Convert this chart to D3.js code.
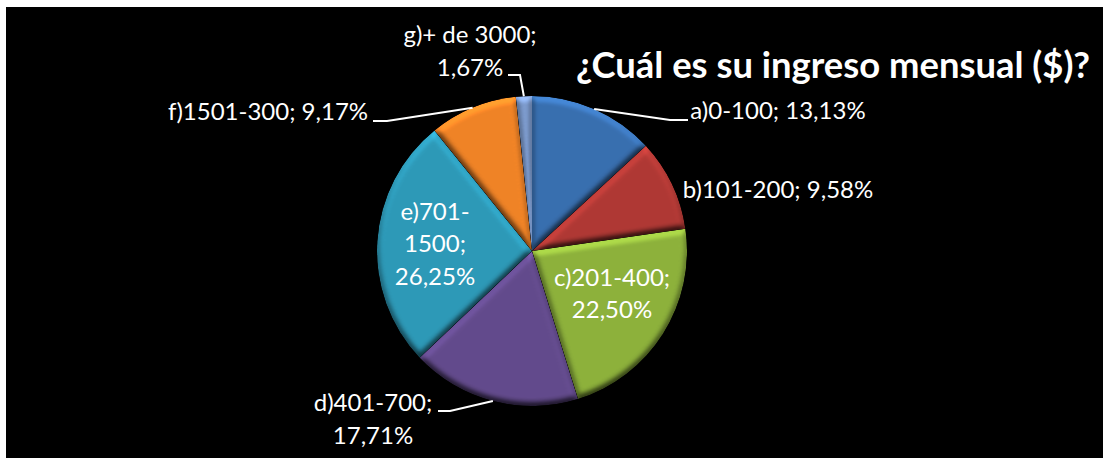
<!DOCTYPE html>
<html>
<head>
<meta charset="utf-8">
<script src="https://cdn.jsdelivr.net/npm/d3@7"></script>
<style>
  html, body { margin: 0; padding: 0; background: #fff; overflow: hidden; }
  text { font-family: Lato, "Open Sans", sans-serif; fill: #fff; }
</style>
</head>
<body>
<div id="chart"></div>
<script>
// values
const categories = ['a)0-100', 'b)101-200', 'c)201-400', 'd)401-700', 'e)701-1500', 'f)1501-300', 'g)+ de 3000'];
const percents = [13.13, 9.58, 22.50, 17.71, 26.25, 9.17, 1.67];
const percentLabels = ['13,13%', '9,58%', '22,50%', '17,71%', '26,25%', '9,17%', '1,67%'];
const colors = ['#386eae', '#ae3834', '#8cb03b', '#624a8b', '#2d98b6', '#ee8226', '#7c9acc'];
const title = '¿Cuál es su ingreso mensual ($)?';

const width = 1103, height = 458;
const center = {x: 532, y: 251};
const radius = 155;

const svg = d3.select('#chart').append('svg')
  .attr('width', width)
  .attr('height', height)
  .style('display', 'block');

svg.append('rect')
  .attr('x', 6).attr('y', 7)
  .attr('width', width - 6).attr('height', height - 7)
  .attr('fill', '#000');

// bevel on the slices, lit from above
const defs = svg.append('defs');
const bevel = defs.append('filter').attr('id', 'bevel')
  .attr('x', '-5%').attr('y', '-5%').attr('width', '110%').attr('height', '110%')
  .attr('color-interpolation-filters', 'sRGB');
bevel.append('feGaussianBlur').attr('in', 'SourceAlpha').attr('stdDeviation', 3.2).attr('result', 'blur');
bevel.append('feDiffuseLighting')
  .attr('in', 'blur').attr('surfaceScale', 4).attr('diffuseConstant', 1)
  .attr('lighting-color', '#fff').attr('result', 'light')
  .append('feDistantLight').attr('azimuth', 270).attr('elevation', 50);
bevel.append('feComposite').attr('in', 'SourceGraphic').attr('in2', 'light')
  .attr('operator', 'arithmetic').attr('k1', 1).attr('k2', 0.24).attr('k3', 0).attr('k4', 0).attr('result', 'lit');
bevel.append('feComposite').attr('in', 'lit').attr('in2', 'SourceAlpha').attr('operator', 'in');

const pie = d3.pie().sort(null).value(d => d);
const arcs = pie(percents);
const arc = d3.arc().innerRadius(0).outerRadius(radius);

const g = svg.append('g').attr('transform', `translate(${center.x},${center.y})`);

g.selectAll('path.slice')
  .data(arcs)
  .enter()
  .append('path')
  .attr('class', 'slice')
  .attr('d', arc)
  .attr('fill', (d, i) => colors[i])
  .attr('filter', 'url(#bevel)');

// where each label goes: line centres, and the bend of its leader
const labelLayout = [
  {lines: [`${categories[0]}; ${percentLabels[0]}`], x: 778, y: [111], leader: [[670, 120], [688, 120]]},
  {lines: [`${categories[1]}; ${percentLabels[1]}`], x: 778, y: [190]},
  {lines: [`${categories[2]};`, percentLabels[2]], x: 612, y: [278, 310]},
  {lines: ['d)401-700;', percentLabels[3]], x: 373, y: [403, 436], leader: [[450, 411], [438, 411]]},
  {lines: ['e)701-', '1500;', percentLabels[4]], x: 435, y: [212, 244, 277]},
  {lines: [`${categories[5]}; ${percentLabels[5]}`], x: 268, y: [112], leader: [[387, 121], [373, 121]]},
  {lines: [`${categories[6]};`, percentLabels[6]], x: 470, y: [35, 68], leader: [[520, 75], [508, 75]]}
];

const rimPoint = d => {
  const a = (d.startAngle + d.endAngle) / 2;
  return [center.x + radius * Math.sin(a), center.y - radius * Math.cos(a)];
};

const line = d3.line();
svg.selectAll('path.leader')
  .data(arcs.filter((d, i) => labelLayout[i].leader))
  .enter()
  .append('path')
  .attr('class', 'leader')
  .attr('fill', 'none')
  .attr('stroke', '#fff')
  .attr('stroke-width', 2)
  .attr('d', d => line([rimPoint(d), ...labelLayout[d.index].leader]));

labelLayout.forEach(l => {
  l.lines.forEach((t, i) => {
    svg.append('text')
      .attr('class', 'label')
      .attr('x', l.x)
      .attr('y', l.y[i])
      .attr('dy', '0.35em')
      .attr('text-anchor', 'middle')
      .style('font-size', '24px')
      .text(t);
  });
});

svg.append('text')
  .attr('class', 'title')
  .attr('x', 833)
  .attr('y', 65)
  .attr('dy', '0.35em')
  .attr('text-anchor', 'middle')
  .style('font-size', '36.4px')
  .style('font-weight', 700)
  .text(title);
</script>
</body>
</html>
